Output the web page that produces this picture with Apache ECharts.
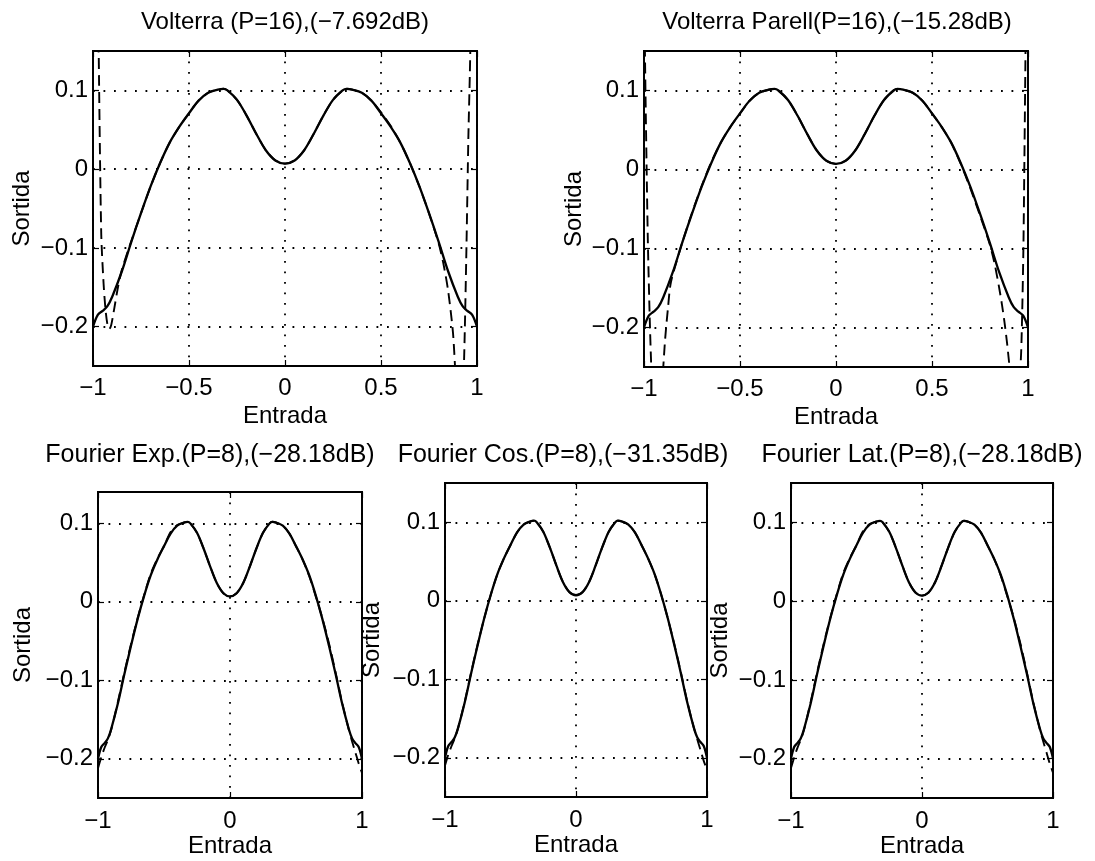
<!DOCTYPE html>
<html>
<head>
<meta charset="utf-8">
<title>Volterra / Fourier</title>
<script src="https://cdn.jsdelivr.net/npm/echarts@6/dist/echarts.min.js"></script>
<style>
  html, body { margin: 0; padding: 0; background: #fff; }
  #chart { width: 1095px; height: 861px; }
</style>
</head>
<body>
<div id="chart"></div>
<script>
// ---- data -------------------------------------------------------------
// input grid shared by the target curve and the Fourier approximations
const entrada = [-1, -0.975, -0.95, -0.925, -0.9, -0.85, -0.8, -0.75, -0.7, -0.65, -0.6, -0.55, -0.5,
  -0.45, -0.4, -0.35, -0.32, -0.3, -0.25, -0.2, -0.15, -0.1, -0.05, 0, 0.05, 0.1, 0.15, 0.2, 0.25,
  0.3, 0.32, 0.35, 0.4, 0.45, 0.5, 0.55, 0.6, 0.65, 0.7, 0.75, 0.8, 0.85, 0.9, 0.925, 0.95, 0.975, 1];

// target nonlinearity (solid line)
const sortidaReal = [-0.200, -0.185, -0.180, -0.174, -0.162, -0.130, -0.092, -0.056, -0.022, 0.008, 0.034, 0.054, 0.071,
  0.087, 0.097, 0.101, 0.102, 0.100, 0.088, 0.068, 0.045, 0.024, 0.011, 0.007, 0.011, 0.024, 0.045, 0.068, 0.088,
  0.100, 0.102, 0.101, 0.097, 0.087, 0.071, 0.054, 0.034, 0.008, -0.022, -0.056, -0.092, -0.130, -0.162, -0.174, -0.180, -0.185, -0.200];

// Volterra (P=16) model output (dashed)
const volterraX = [-0.98, -0.97, -0.957, -0.945, -0.935, -0.925, -0.915, -0.905, -0.89, -0.87, -0.85,
  -0.8, -0.75, -0.7, -0.65, -0.6, -0.55, -0.5, -0.45, -0.4, -0.35, -0.32, -0.3, -0.25, -0.2, -0.15, -0.1, -0.05, 0,
  0.05, 0.1, 0.15, 0.2, 0.25, 0.3, 0.32, 0.35, 0.4, 0.45, 0.5, 0.55, 0.6, 0.65, 0.7, 0.75, 0.8,
  0.825, 0.85, 0.875, 0.89, 0.91, 0.925, 0.935, 0.945, 0.955, 0.965, 0.975];
const volterraY = [0.40, 0.143, -0.083, -0.145, -0.178, -0.197, -0.203, -0.198, -0.178, -0.150, -0.128,
  -0.091, -0.056, -0.022, 0.008, 0.034, 0.054, 0.071, 0.087, 0.097, 0.101, 0.102, 0.100, 0.088, 0.068, 0.045, 0.024, 0.011, 0.007,
  0.011, 0.024, 0.045, 0.068, 0.088, 0.100, 0.102, 0.101, 0.097, 0.087, 0.072, 0.055, 0.034, 0.008, -0.022, -0.056, -0.094,
  -0.120, -0.155, -0.208, -0.27, -0.34, -0.30, -0.22, -0.10, 0.04, 0.15, 0.40];

// parallel Volterra (P=16) model output (dashed)
const parellX = [-0.998, -0.99, -0.98, -0.97, -0.962, -0.95, -0.935, -0.92, -0.905, -0.89, -0.875, -0.86,
  -0.8, -0.75, -0.7, -0.65, -0.6, -0.55, -0.5, -0.45, -0.4, -0.35, -0.32, -0.3, -0.25, -0.2, -0.15, -0.1, -0.05, 0,
  0.05, 0.1, 0.15, 0.2, 0.25, 0.3, 0.32, 0.35, 0.4, 0.45, 0.5, 0.55, 0.6, 0.65, 0.7, 0.75, 0.8,
  0.825, 0.85, 0.865, 0.878, 0.892, 0.905, 0.93, 0.96, 0.968, 0.976, 0.982, 0.987, 0.995];
const parellY = [0.20, 0.06, -0.09, -0.19, -0.25, -0.31, -0.34, -0.32, -0.27, -0.215, -0.175, -0.143,
  -0.092, -0.055, -0.021, 0.009, 0.034, 0.054, 0.071, 0.087, 0.097, 0.101, 0.102, 0.100, 0.088, 0.068, 0.045, 0.024, 0.011, 0.007,
  0.011, 0.024, 0.045, 0.068, 0.088, 0.100, 0.102, 0.101, 0.097, 0.087, 0.071, 0.054, 0.034, 0.007, -0.024, -0.058, -0.094,
  -0.118, -0.150, -0.172, -0.194, -0.222, -0.252, -0.30, -0.25, -0.20, -0.10, 0.03, 0.15, 0.35];

// Fourier expansions (P=8), dashed, on the shared input grid
const fourierExp = [-0.212, -0.198, -0.186, -0.176, -0.163, -0.128, -0.090, -0.054, -0.021, 0.009, 0.036, 0.055, 0.071,
  0.089, 0.098, 0.101, 0.102, 0.100, 0.088, 0.068, 0.045, 0.024, 0.011, 0.007, 0.011, 0.024, 0.045, 0.068, 0.088,
  0.100, 0.102, 0.101, 0.097, 0.087, 0.071, 0.054, 0.033, 0.007, -0.021, -0.053, -0.090, -0.129, -0.163, -0.178, -0.192, -0.206, -0.218];
const fourierCos = [-0.210, -0.196, -0.185, -0.175, -0.162, -0.129, -0.091, -0.055, -0.022, 0.008, 0.034, 0.054, 0.071,
  0.087, 0.097, 0.101, 0.102, 0.100, 0.088, 0.068, 0.045, 0.024, 0.011, 0.007, 0.011, 0.024, 0.045, 0.068, 0.088,
  0.100, 0.102, 0.101, 0.097, 0.087, 0.071, 0.054, 0.034, 0.008, -0.022, -0.055, -0.091, -0.129, -0.162, -0.176, -0.190, -0.204, -0.215];
const fourierLat = [-0.212, -0.198, -0.186, -0.176, -0.163, -0.128, -0.090, -0.054, -0.021, 0.009, 0.036, 0.055, 0.071,
  0.089, 0.098, 0.101, 0.102, 0.100, 0.088, 0.068, 0.045, 0.024, 0.011, 0.007, 0.011, 0.024, 0.045, 0.068, 0.088,
  0.100, 0.102, 0.101, 0.097, 0.087, 0.071, 0.054, 0.033, 0.007, -0.021, -0.053, -0.090, -0.129, -0.163, -0.178, -0.192, -0.206, -0.218];

// tick values
const xTicksWide = [-1, -0.5, 0, 0.5, 1];
const xTicksNarrow = [-1, 0, 1];
const yTicks = [-0.2, -0.1, 0, 0.1];

const titles = [
  'Volterra (P=16),(\u22127.692dB)',
  'Volterra Parell(P=16),(\u221215.28dB)',
  'Fourier Exp.(P=8),(\u221228.18dB)',
  'Fourier Cos.(P=8),(\u221231.35dB)',
  'Fourier Lat.(P=8),(\u221228.18dB)'
];

// ---- layout -----------------------------------------------------------
const FONT = '"Liberation Sans", Arial, Helvetica, sans-serif';
const panels = [
  { grid: { left: 93, top: 51, width: 384, height: 315 }, yMax: 0.15, xTicks: xTicksWide,
    dashX: volterraX, dashY: volterraY, titleX: 285, titleY: 10, titleSize: 24,
    xNameGap: 38, yNameGap: 59, xMargin: 10 },
  { grid: { left: 644, top: 51, width: 384, height: 316 }, yMax: 0.15, xTicks: xTicksWide,
    dashX: parellX, dashY: parellY, titleX: 837, titleY: 10, titleSize: 24,
    xNameGap: 38, yNameGap: 58, xMargin: 10 },
  { grid: { left: 98, top: 492, width: 264, height: 306 }, yMax: 0.14, xTicks: xTicksNarrow,
    dashX: entrada, dashY: fourierExp, titleX: 210, titleY: 443, titleSize: 25,
    xNameGap: 36, yNameGap: 63, xMargin: 11 },
  { grid: { left: 445, top: 483, width: 262, height: 314 }, yMax: 0.15, xTicks: xTicksNarrow,
    dashX: entrada, dashY: fourierCos, titleX: 563, titleY: 443, titleSize: 25,
    xNameGap: 36, yNameGap: 61, xMargin: 11 },
  { grid: { left: 791, top: 483, width: 262, height: 315 }, yMax: 0.15, xTicks: xTicksNarrow,
    dashX: entrada, dashY: fourierLat, titleX: 922, titleY: 443, titleSize: 25,
    xNameGap: 36, yNameGap: 59, xMargin: 11 }
];

const fmt = v => String(Math.round(v * 10) / 10).replace('-', '\u2212');
const black = '#000';
const labelStyle = { color: black, fontSize: 24, fontFamily: FONT };
const dotted = { color: black, width: 1.8, type: [1.8, 8.7] };

const grids = [], xAxes = [], yAxes = [], series = [], titleList = [];

panels.forEach((p, i) => {
  grids.push(Object.assign({ show: true, borderColor: black, borderWidth: 1.8, backgroundColor: 'transparent' }, p.grid));

  titleList.push({
    text: titles[i], left: p.titleX, top: p.titleY, textAlign: 'center', padding: 0,
    textStyle: { fontSize: p.titleSize, fontWeight: 'normal', color: black, fontFamily: FONT }
  });

  // bottom axis with labels, top axis with ticks only
  xAxes.push({
    gridIndex: i, type: 'value', min: -1, max: 1, position: 'bottom',
    axisLine: { show: true, onZero: false, lineStyle: { color: black, width: 1.8 } },
    axisTick: { show: true, inside: true, length: 6, customValues: p.xTicks, lineStyle: { color: black, width: 1.2 } },
    axisLabel: { show: true, customValues: p.xTicks, formatter: fmt, margin: p.xMargin, ...labelStyle },
    splitLine: { show: true, lineStyle: dotted },
    name: 'Entrada', nameLocation: 'middle', nameGap: p.xNameGap, nameTextStyle: labelStyle
  });
  xAxes.push({
    gridIndex: i, type: 'value', min: -1, max: 1, position: 'top',
    axisLine: { show: true, onZero: false, lineStyle: { color: black, width: 1.8 } },
    axisTick: { show: true, inside: true, length: 6, customValues: p.xTicks, lineStyle: { color: black, width: 1.2 } },
    axisLabel: { show: false }, splitLine: { show: false }
  });

  // left axis with labels, right axis with ticks only
  yAxes.push({
    gridIndex: i, type: 'value', min: -0.25, max: p.yMax, position: 'left',
    axisLine: { show: true, onZero: false, lineStyle: { color: black, width: 1.8 } },
    axisTick: { show: true, inside: true, length: 6, customValues: yTicks, lineStyle: { color: black, width: 1.2 } },
    axisLabel: { show: true, customValues: yTicks, formatter: fmt, margin: 5, ...labelStyle },
    splitLine: { show: true, lineStyle: dotted },
    name: 'Sortida', nameLocation: 'middle', nameGap: p.yNameGap, nameTextStyle: labelStyle
  });
  yAxes.push({
    gridIndex: i, type: 'value', min: -0.25, max: p.yMax, position: 'right',
    axisLine: { show: true, onZero: false, lineStyle: { color: black, width: 1.8 } },
    axisTick: { show: true, inside: true, length: 6, customValues: yTicks, lineStyle: { color: black, width: 1.2 } },
    axisLabel: { show: false }, splitLine: { show: false }
  });

  // target (solid) and model (dashed)
  series.push({
    type: 'line', xAxisIndex: 2 * i, yAxisIndex: 2 * i, symbol: 'none', smooth: 0.35, clip: true,
    lineStyle: { color: black, width: 2.3 }, z: 3,
    data: entrada.map((x, k) => [x, sortidaReal[k]])
  });
  series.push({
    type: 'line', xAxisIndex: 2 * i, yAxisIndex: 2 * i, symbol: 'none', smooth: 0.25, clip: true,
    lineStyle: { color: black, width: 1.9, type: [11, 6] }, z: 4,
    data: p.dashX.map((x, k) => [x, p.dashY[k]])
  });
});

const chart = echarts.init(document.getElementById('chart'), null, { renderer: 'canvas' });
chart.setOption({
  backgroundColor: '#fff',
  animation: false,
  title: titleList,
  grid: grids,
  xAxis: xAxes,
  yAxis: yAxes,
  series: series
});
</script>
</body>
</html>
